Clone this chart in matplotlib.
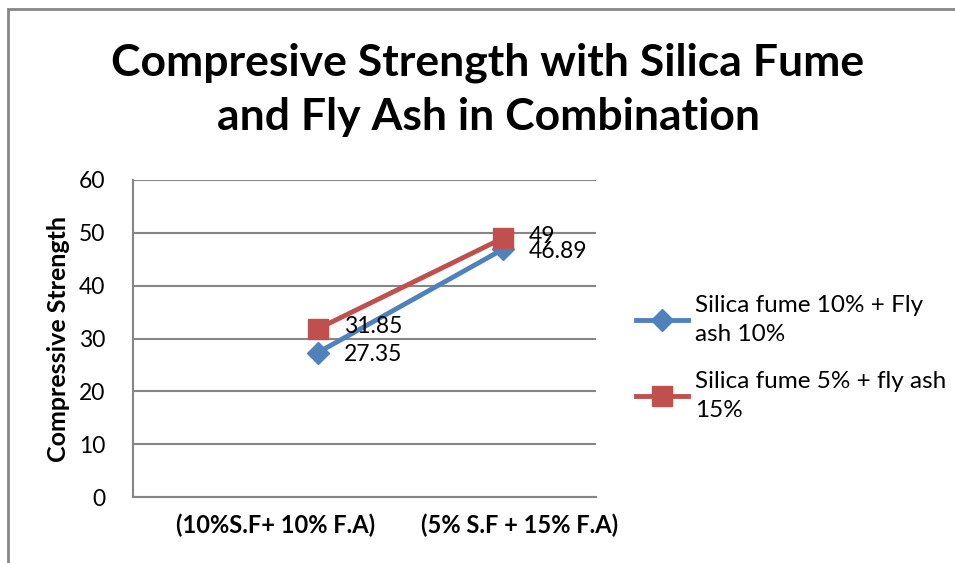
import matplotlib.pyplot as plt
from matplotlib.patches import Rectangle

categories = ["(10%S.F+ 10% F.A)", "(5% S.F + 15% F.A)"]
series_names = ["Silica fume 10% + Fly\nash 10%", "Silica fume 5% + fly ash\n15%"]
sf10_fa10 = [27.35, 46.89]
sf5_fa15 = [31.85, 49]
labels_sf10 = ["27.35", "46.89"]
labels_sf5 = ["31.85", "49"]

plt.rcParams['font.family'] = ['Lato', 'DejaVu Sans']

fig = plt.figure(figsize=(9.55, 5.63), dpi=100)
ax = fig.add_axes([0.1393, 0.1172, 0.4848, 0.5631])

x = [0, 1]
ax.plot(x, sf10_fa10, color="#4F81BD", lw=3.5, marker="D", ms=11,
        label=series_names[0])
ax.plot(x, sf5_fa15, color="#C0504D", lw=3.5, marker="s", ms=14,
        label=series_names[1])

for xi, v, t in zip(x, sf10_fa10, labels_sf10):
    ax.annotate(t, (xi, v), xytext=(26, -2), textcoords="offset pixels",
                va="center", ha="left", fontsize=16.5)
for xi, v, t in zip(x, sf5_fa15, labels_sf5):
    ax.annotate(t, (xi, v), xytext=(26, 2), textcoords="offset pixels",
                va="center", ha="left", fontsize=16.5)

ax.set_xlim(-1.0, 1.503)
ax.set_ylim(0, 60)
ax.set_yticks(range(0, 61, 10))
ax.set_xticks([-0.23, 1.09], labels=categories, fontsize=17, fontweight="bold")
ax.tick_params(axis="y", labelsize=16.5, length=0, pad=20)
ax.tick_params(axis="x", length=0, pad=12)
ax.grid(axis="y", color="#868686", lw=1.5)
ax.set_axisbelow(True)
for s in ["top", "right"]:
    ax.spines[s].set_visible(False)
for s in ["left", "bottom"]:
    ax.spines[s].set_color("#868686")
    ax.spines[s].set_linewidth(1.5)
ax.set_ylabel("Compressive Strength", fontsize=18, fontweight="bold", labelpad=6)

fig.text(0.511, 0.84, "Compresive Strength with Silica Fume\nand Fly Ash in Combination",
         ha="center", va="center", fontsize=32, fontweight="bold", linespacing=1.42)

leg = fig.legend(loc="center left", bbox_to_anchor=(0.643, 0.364), frameon=False,
                 fontsize=17.5, handlelength=2.15, labelspacing=1.05, handletextpad=0.3)
for t in leg.get_texts():
    t.set_linespacing(1.5)

fig.patches.append(Rectangle((8 / 955, -0.1), 1.2, 1 - 9 / 563 + 0.1,
                             transform=fig.transFigure, fill=False,
                             edgecolor="#868686", lw=2))

fig.savefig("out.png", dpi=100)
